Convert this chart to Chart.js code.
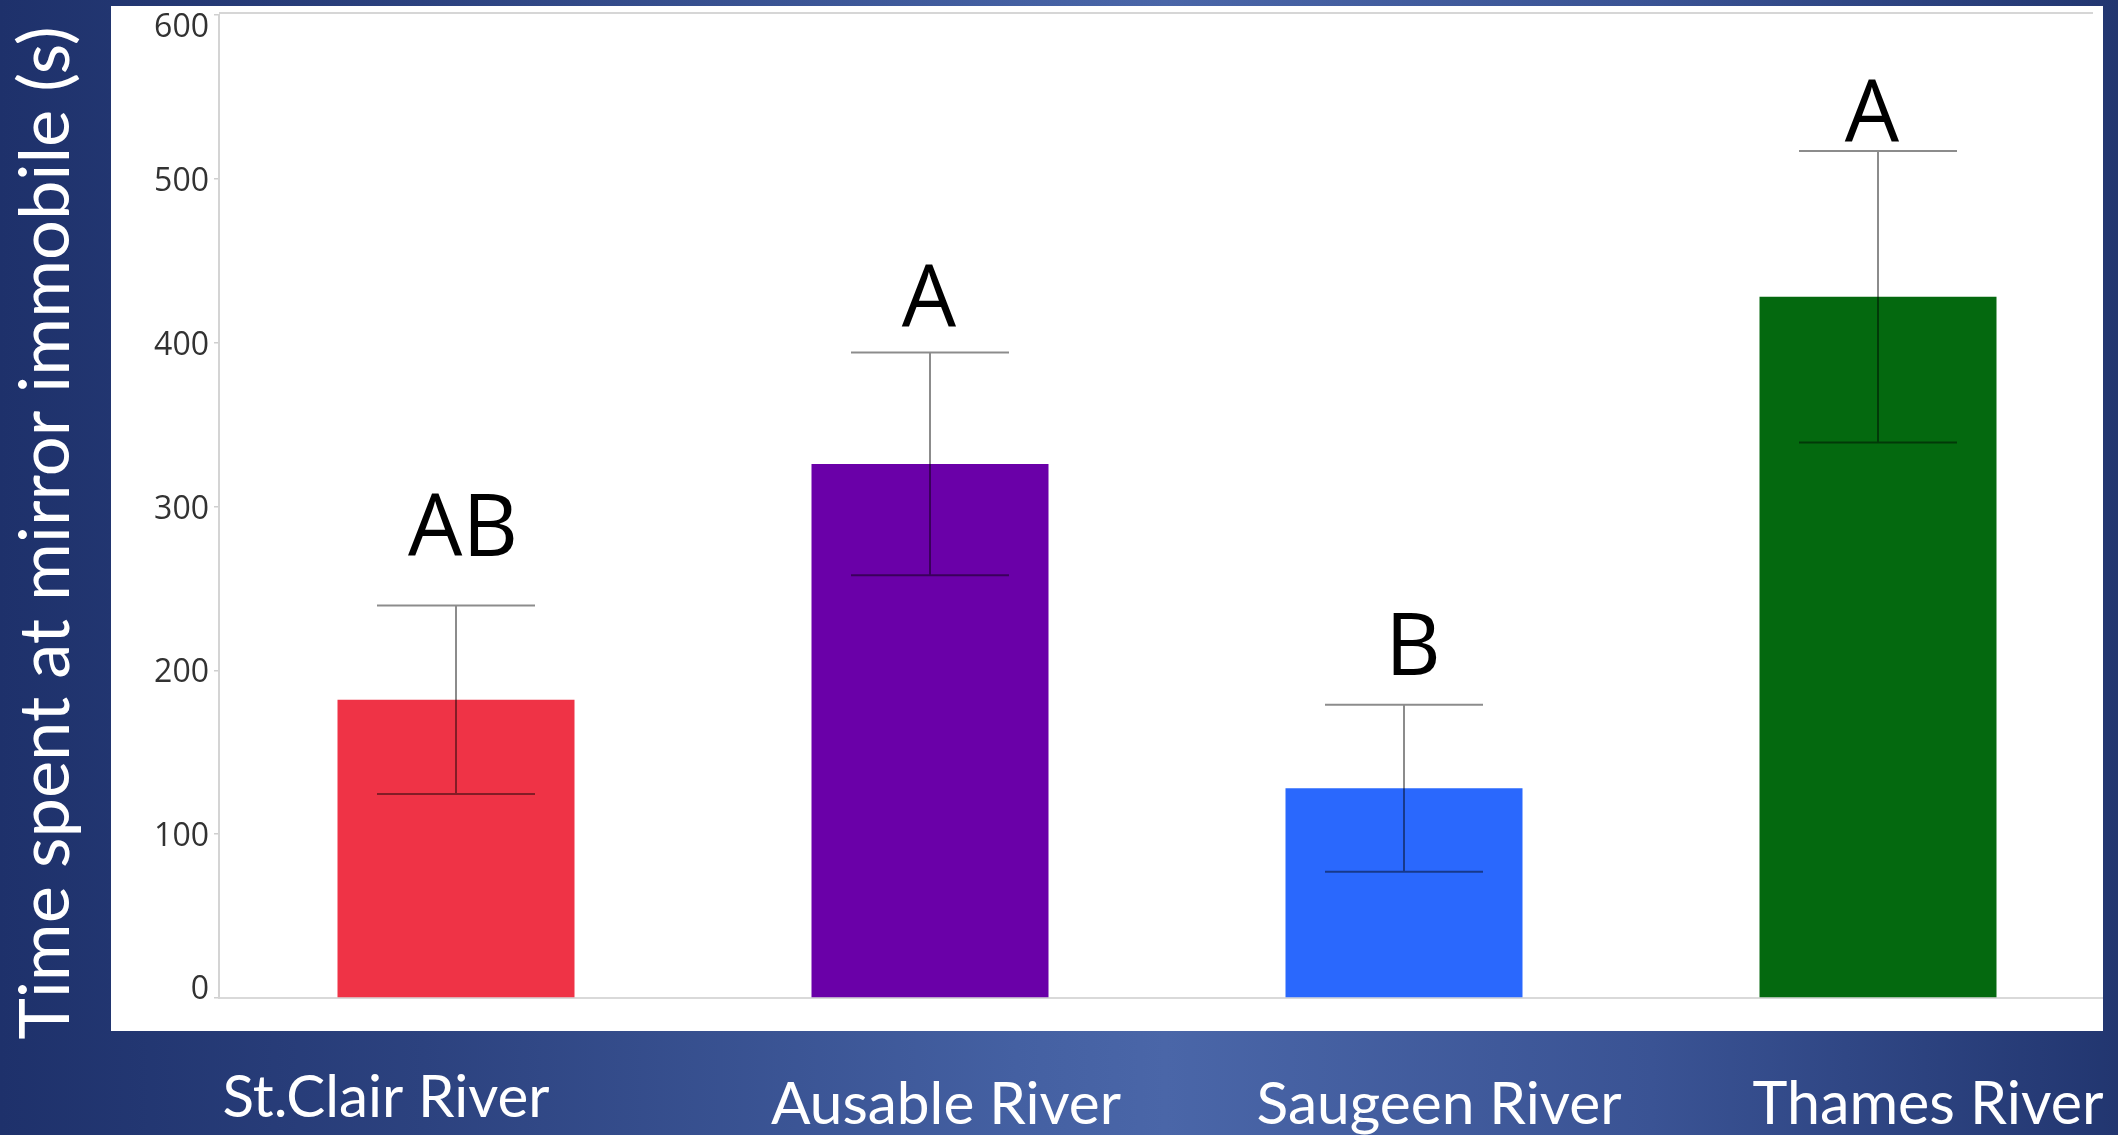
<!DOCTYPE html>
<html>
<head>
<meta charset="utf-8">
<script src="https://cdn.jsdelivr.net/npm/chart.js@4.4.1/dist/chart.umd.min.js"></script>
<style>
  html, body { margin: 0; padding: 0; width: 2118px; height: 1135px; overflow: hidden; }
  body {
    background: linear-gradient(90deg, #1e316b 0%, #2c427f 20%, #4460a2 48%, #4a66a8 55%, #3a5394 78%, #223670 100%);
  }
  #c { position: absolute; left: 0; top: 0; }
</style>
</head>
<body>
<canvas id="c" width="2118" height="1135"></canvas>
<script>
// River populations and time spent immobile at the mirror (mean ± SE, seconds)
const rivers = ['St.Clair River', 'Ausable River', 'Saugeen River', 'Thames River'];
const meanImmobile = [182, 326, 128, 428];
const seImmobile = [57.5, 68, 51, 89];
const groupLetters = ['AB', 'A', 'B', 'A'];
const yTickValues = [0, 100, 200, 300, 400, 500, 600];
const yAxisTitle = 'Time spent at mirror immobile (s)';

const barColors = ['#ef3346', '#6a00a8', '#2a68fd', '#04690f'];

// White plot panel on the slide
const panel = { x: 111, y: 6, w: 1992, h: 1025 };

// Letter placement relative to the top of each error bar (px)
const letterStyle = { dx: [7, -1, 9, -6], gap: [50, 25, 30, 9], font: '86px "Open Sans"' };
// Category captions under the panel (px offsets from bar centres, baselines, widths)
const captionStyle = { dx: [-70, 16, 35, 50], baseline: [1117, 1124, 1124, 1124], width: [327, 350, 365, 351], family: 'Lato' };
const titleStyle = { x: 69, y: 533, width: 1013, family: 'Lato' };
// Tick labels sit a little below their ticks; the end labels are kept inside the plot
const tickLabelShift = { first: -8, last: 13, other: 3 };

function fittedFont(ctx, text, family, width) {
  ctx.font = '100px ' + family;
  const size = 100 * width / ctx.measureText(text).width;
  return size.toFixed(2) + 'px ' + family;
}

const slidePlugin = {
  id: 'slide',
  beforeDraw(chart) {
    const ctx = chart.ctx;
    // nudge the y tick labels
    const items = chart.scales.y.getLabelItems();
    items.forEach((it, i) => {
      const shift = i === 0 ? tickLabelShift.first : (i === items.length - 1 ? tickLabelShift.last : tickLabelShift.other);
      if (!it._shifted) { it.options.translation[1] += shift; it._shifted = true; }
    });
    ctx.save();
    ctx.fillStyle = '#ffffff';
    ctx.fillRect(panel.x, panel.y, panel.w, panel.h);
    ctx.beginPath();
    ctx.rect(panel.x, panel.y, panel.w, panel.h);
    ctx.clip();
    // frame line along the top of the plot
    const a = chart.chartArea;
    ctx.strokeStyle = '#d6d6d6';
    ctx.lineWidth = 2;
    ctx.beginPath();
    ctx.moveTo(a.left, a.top - 2);
    ctx.lineTo(2093, a.top - 2);
    ctx.stroke();
  },
  afterDatasetsDraw(chart) {
    const ctx = chart.ctx;
    const y = chart.scales.y;
    const meta = chart.getDatasetMeta(0);
    ctx.save();
    // error bars
    ctx.strokeStyle = 'rgba(0,0,0,0.45)';
    ctx.lineWidth = 2;
    meta.data.forEach((bar, i) => {
      const top = y.getPixelForValue(meanImmobile[i] + seImmobile[i]);
      const bot = y.getPixelForValue(meanImmobile[i] - seImmobile[i]);
      const half = bar.width / 3;
      ctx.beginPath();
      ctx.moveTo(bar.x, top); ctx.lineTo(bar.x, bot);
      ctx.moveTo(bar.x - half, top); ctx.lineTo(bar.x + half, top);
      ctx.moveTo(bar.x - half, bot); ctx.lineTo(bar.x + half, bot);
      ctx.stroke();
    });
    // significance letters
    ctx.fillStyle = '#000000';
    ctx.font = letterStyle.font;
    ctx.textAlign = 'center';
    ctx.textBaseline = 'alphabetic';
    meta.data.forEach((bar, i) => {
      const top = y.getPixelForValue(meanImmobile[i] + seImmobile[i]);
      ctx.fillText(groupLetters[i], bar.x + letterStyle.dx[i], top - letterStyle.gap[i]);
    });
    ctx.restore();
  },
  afterDraw(chart) {
    const ctx = chart.ctx;
    ctx.restore(); // drop the panel clip
    const meta = chart.getDatasetMeta(0);
    ctx.save();
    ctx.fillStyle = '#ffffff';
    ctx.textAlign = 'center';
    ctx.textBaseline = 'alphabetic';
    meta.data.forEach((bar, i) => {
      ctx.font = fittedFont(ctx, rivers[i], captionStyle.family, captionStyle.width[i]);
      ctx.fillText(rivers[i], bar.x + captionStyle.dx[i], captionStyle.baseline[i]);
    });
    ctx.translate(titleStyle.x, titleStyle.y);
    ctx.rotate(-Math.PI / 2);
    ctx.font = fittedFont(ctx, yAxisTitle, titleStyle.family, titleStyle.width);
    ctx.fillText(yAxisTitle, 0, 0);
    ctx.restore();
  }
};

new Chart(document.getElementById('c'), {
  type: 'bar',
  data: {
    labels: rivers,
    datasets: [{
      data: meanImmobile,
      backgroundColor: barColors,
      borderWidth: 0,
      barPercentage: 0.5,
      categoryPercentage: 1.0
    }]
  },
  options: {
    responsive: false,
    devicePixelRatio: 1,
    animation: false,
    events: [],
    layout: { padding: { left: 0, top: 15, right: 3, bottom: 137 } },
    plugins: { legend: { display: false }, tooltip: { enabled: false } },
    scales: {
      x: {
        offset: true,
        ticks: { display: false },
        grid: { display: false },
        border: { display: true, color: '#d9d9d9', width: 2 },
        afterFit(s) { s.height = 0; s.paddingLeft = 0; s.paddingRight = 0; }
      },
      y: {
        min: 0,
        max: 600,
        afterBuildTicks(s) { s.ticks = yTickValues.map(v => ({ value: v })); },
        ticks: {
          padding: 5,
          color: '#323232',
          font: { family: '"Open Sans"', size: 32 }
        },
        grid: { drawOnChartArea: false, drawTicks: true, tickLength: 5, color: '#cfcfcf', lineWidth: 1.5 },
        border: { display: true, color: '#d4d4d4', width: 2 },
        afterFit(s) { s.width = 219; s.paddingTop = 0; s.paddingBottom = 0; }
      }
    }
  },
  plugins: [slidePlugin]
});
</script>
</body>
</html>
